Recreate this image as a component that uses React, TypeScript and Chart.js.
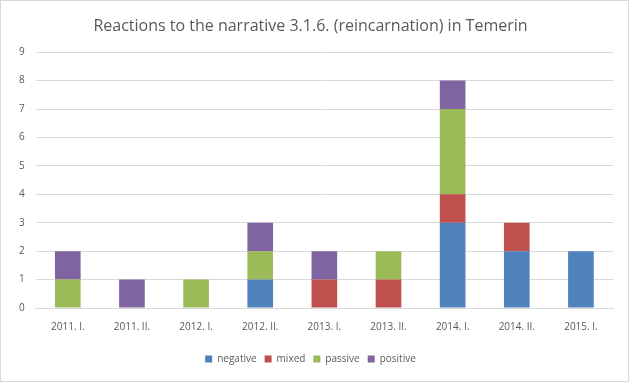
import React, { useEffect, useRef } from "react";
import { Chart, registerables } from "chart.js";

Chart.register(...registerables);

const categories = ["2011. I.", "2011. II.", "2012. I.", "2012. II.", "2013. I.", "2013. II.", "2014. I.", "2014. II.", "2015. I."];
const negative = [0, 0, 0, 1, 0, 0, 3, 2, 2];
const mixed = [0, 0, 0, 0, 1, 1, 1, 1, 0];
const passive = [1, 0, 1, 1, 0, 1, 3, 0, 0];
const positive = [1, 1, 0, 1, 1, 0, 1, 0, 0];
const yTicks = [0, 1, 2, 3, 4, 5, 6, 7, 8, 9];
const titleText = "Reactions to the narrative 3.1.6. (reincarnation) in Temerin";

const FONT = "'Open Sans', 'Liberation Sans', sans-serif";

const borderPlugin = {
  id: "outerBorder",
  afterDraw(chart: any) {
    const ctx = chart.ctx;
    ctx.save();
    ctx.strokeStyle = "#d9d9d9";
    ctx.lineWidth = 1;
    ctx.strokeRect(0.5, 0.5, chart.width - 1, chart.height - 1);
    ctx.restore();
  },
};

export default function App() {
  const ref = useRef<HTMLCanvasElement | null>(null);
  useEffect(() => {
    document.body.style.margin = "0";
    const canvas = ref.current!;
    const chart = new Chart(canvas, {
      type: "bar",
      data: {
        labels: categories,
        datasets: [
          { label: "negative", data: negative, backgroundColor: "#4f81bd" },
          { label: "mixed", data: mixed, backgroundColor: "#c0504d" },
          { label: "passive", data: passive, backgroundColor: "#9bbb59" },
          { label: "positive", data: positive, backgroundColor: "#8064a2" },
        ],
      },
      options: {
        animation: false,
        responsive: false,
        devicePixelRatio: 1,
        layout: { padding: { top: 17, left: 8, right: 16, bottom: 8 } },
        datasets: { bar: { categoryPercentage: 1, barPercentage: 0.4 } },
        plugins: {
          title: {
            display: true,
            text: titleText,
            color: "#595959",
            font: { family: FONT, size: 16, weight: "normal" },
            padding: { top: 0, bottom: 16 },
          },
          legend: {
            position: "bottom",
            labels: {
              boxWidth: 7,
              boxHeight: 7,
              color: "#595959",
              font: { family: FONT, size: 10 },
              padding: 8,
            },
          },
          tooltip: { enabled: false },
        },
        scales: {
          x: {
            stacked: true,
            grid: { display: false, drawTicks: false },
            border: { display: true, color: "#d9d9d9" },
            ticks: { color: "#595959", font: { family: FONT, size: 10 }, padding: 13, maxRotation: 0 },
          },
          y: {
            stacked: true,
            min: 0,
            max: 9,
            afterBuildTicks: (s: any) => {
              s.ticks = yTicks.map((v) => ({ value: v }));
            },
            grid: { color: "#d9d9d9", drawTicks: false },
            border: { display: false },
            ticks: { color: "#595959", font: { family: FONT, size: 10 }, padding: 11 },
          },
        },
      },
      plugins: [borderPlugin],
    });
    return () => chart.destroy();
  }, []);
  return <canvas ref={ref} width={629} height={382} style={{ display: "block", width: 629, height: 382 }} />;
}
